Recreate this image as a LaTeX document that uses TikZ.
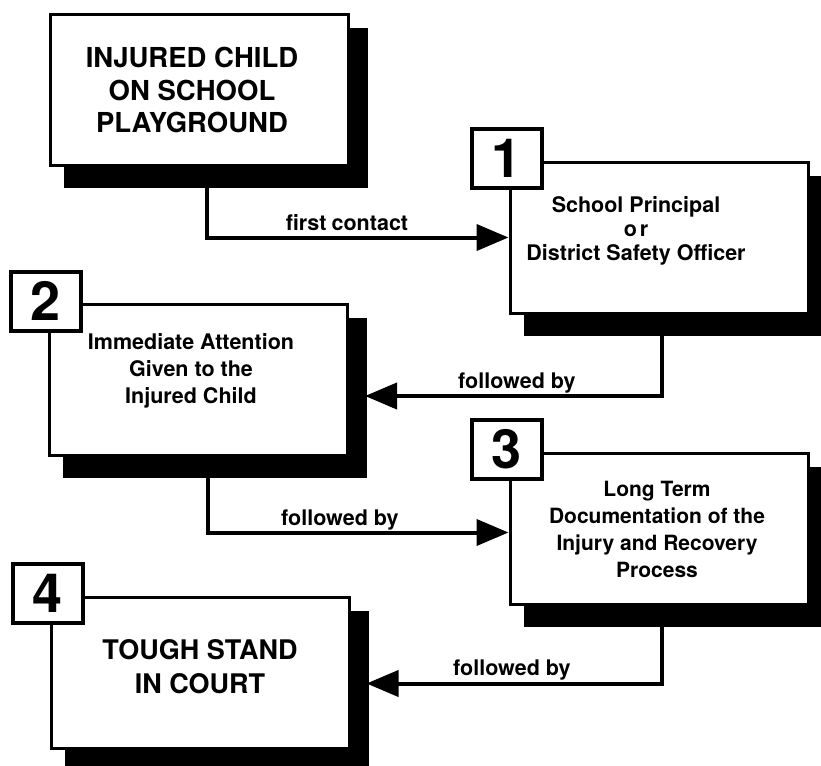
\documentclass[tikz,border=0pt]{standalone}
\usepackage{fontspec}
\setmainfont{TeX Gyre Heros}
\usetikzlibrary{arrows.meta,backgrounds}
\begin{document}
\begin{tikzpicture}[x=1pt,y=-1pt,
  mainbox/.style={draw, line width=3pt, fill=white, minimum width=298pt, minimum height=151pt, inner sep=0pt},
  numsq/.style={draw, line width=4pt, fill=white, minimum width=70pt, minimum height=59pt, inner sep=0pt, font=\fontsize{54}{54}\selectfont\bfseries},
  captext/.style={align=center, inner sep=0pt, font=\fontsize{27.5}{32.5}\selectfont\bfseries},
  boxtext/.style={align=center, inner sep=0pt, font=\fontsize{21.5}{25}\selectfont\bfseries},
  lbl/.style={inner sep=0pt, font=\fontsize{21.5}{21.5}\selectfont\bfseries},
  conn/.style={line width=4pt, -{Triangle[length=32pt,width=26pt]}},
  shadowfill/.style={fill=black}
]
\useasboundingbox (0,0) rectangle (821,765);

% main boxes
\node[mainbox] (b0) at (199.5,90) {};
\node[mainbox] (b1) at (659,237.5) {};
\node[mainbox] (b2) at (198.5,380) {};
\node[mainbox] (b3) at (659,528.5) {};
\node[mainbox] (b4) at (200,672.5) {};

% shadows
\begin{scope}[on background layer]
\foreach \b in {b0,b1,b2,b3,b4}{
  \fill[shadowfill] ([shift={(15,15)}]\b.north west) rectangle ([shift={(18,21)}]\b.south east);
}
\end{scope}

% texts
\node[captext] (t0) at (192,90) {INJURED CHILD\\ON SCHOOL\\PLAYGROUND};
\node[boxtext, font=\fontsize{21.5}{24}\selectfont\bfseries] (t1) at (636,231) {School Principal\\o\kern3pt r\\District Safety Officer};
\node[boxtext, font=\fontsize{21.5}{27}\selectfont\bfseries] (t2) at (191,371) {Immediate Attention\\Given to the\\Injured Child};
\node[boxtext, font=\fontsize{21}{27}\selectfont\bfseries] (t3) at (657,529) {Long Term\\Documentation of the\\Injury and Recovery\\Process};
\node[captext, font=\fontsize{27}{34}\selectfont\bfseries] (t4) at (200,667) {TOUGH STAND\\IN COURT};

% numbered squares
\node[numsq] (s1) at ([shift={(-2,-2)}]b1.north west) {1};
\node[numsq] (s2) at ([shift={(-2,-2)}]b2.north west) {2};
\node[numsq] (s3) at ([shift={(-2,-2)}]b3.north west) {3};
\node[numsq] (s4) at ([shift={(-2,-2)}]b4.north west) {4};

% connector end points
\coordinate (e1) at (b1.west);
\coordinate (e2) at ([shift={(16,16)}]b2.east);
\coordinate (e3) at ([shift={(0,4)}]b3.west);
\coordinate (e4) at ([shift={(16,11)}]b4.east);

% connectors
\draw[conn] ([xshift=7.5pt]b0.south) |- (e1);
\draw[conn] ([xshift=3pt]b1.south) |- (e2);
\draw[conn] ([xshift=9.5pt]b2.south) |- (e3);
\draw[conn] ([xshift=3pt]b3.south) |- (e4);

% connector labels
\node[lbl, anchor=base] (l0) at (347,230) {first\hspace{5pt}contact};
\node[lbl, anchor=base west] (l1) at (458,388) {followed by};
\node[lbl, anchor=base west] (l2) at (281,525) {followed by};
\node[lbl, anchor=base west] (l3) at (453,675) {followed by};
\end{tikzpicture}
\end{document}
